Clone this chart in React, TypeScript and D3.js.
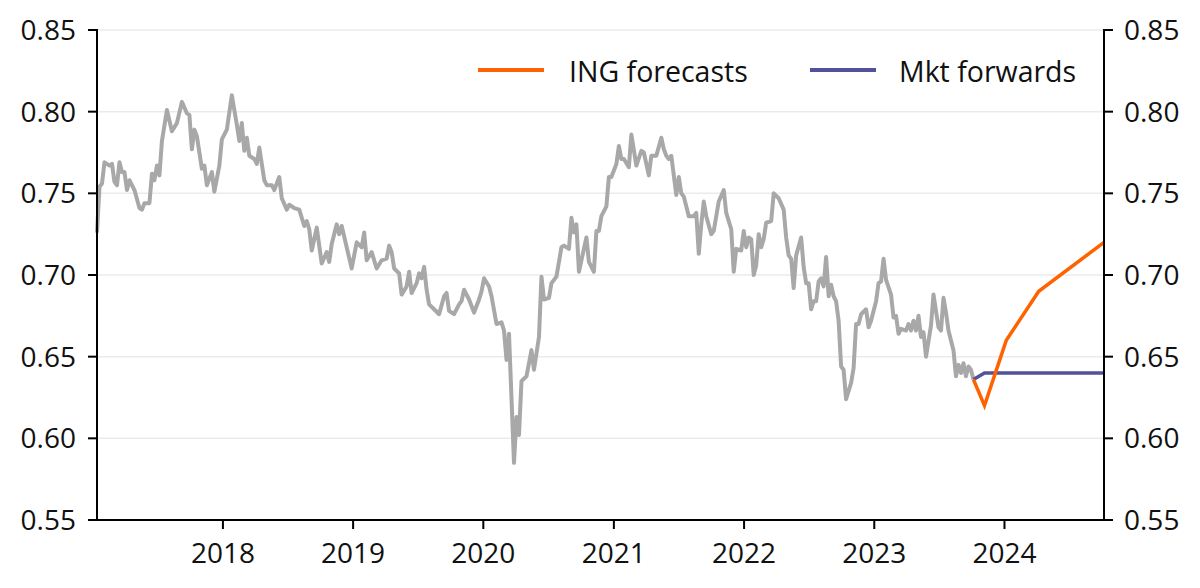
import * as d3 from "d3";

const width = 1200,
  height = 588;
const margin = { top: 30, right: 96, bottom: 68, left: 97 };

// weekly EUR/GBP spot, [weeks since 13 Jan 2017, value]
const eurgbpHistory: [number, number][] = [
  [0, 0.726], [1, 0.754], [2, 0.756], [3, 0.769], [5, 0.767], [6, 0.768], [7, 0.757],
  [8, 0.755], [9, 0.769], [10, 0.763], [11, 0.763], [12, 0.752], [13, 0.758], [15, 0.752],
  [17, 0.741], [18, 0.74], [19, 0.744], [21, 0.744], [22, 0.762], [23, 0.758], [24, 0.767],
  [25, 0.761], [26, 0.782], [28, 0.801], [30, 0.788], [32, 0.793], [34, 0.806], [36, 0.799],
  [37, 0.798], [38, 0.777], [39, 0.789], [40, 0.785], [42, 0.765], [43, 0.767], [44, 0.755],
  [46, 0.763], [47, 0.751], [49, 0.767], [50, 0.783], [52, 0.789], [54, 0.81], [56, 0.792],
  [57, 0.782], [58, 0.793], [59, 0.776], [60, 0.784], [61, 0.773], [63, 0.771], [64, 0.768],
  [65, 0.778], [67, 0.758], [68, 0.755], [70, 0.755], [71, 0.752], [73, 0.76], [74, 0.747],
  [76, 0.74], [77, 0.743], [79, 0.741], [81, 0.74], [83, 0.73], [84, 0.733], [85, 0.728],
  [86, 0.715], [88, 0.729], [90, 0.707], [92, 0.714], [93, 0.708], [94, 0.719], [96, 0.731],
  [97, 0.725], [98, 0.73], [100, 0.717], [102, 0.704], [104, 0.72], [106, 0.717], [107, 0.726],
  [108, 0.709], [110, 0.714], [112, 0.704], [114, 0.709], [116, 0.71], [117, 0.718], [118, 0.714],
  [119, 0.704], [121, 0.701], [122, 0.688], [124, 0.693], [125, 0.702], [126, 0.689], [128, 0.695],
  [129, 0.701], [130, 0.698], [131, 0.705], [132, 0.691], [133, 0.682], [135, 0.679], [137, 0.676],
  [139, 0.687], [140, 0.689], [141, 0.678], [143, 0.676], [145, 0.682], [146, 0.684], [147, 0.691],
  [149, 0.685], [151, 0.677], [153, 0.685], [154, 0.69], [155, 0.698], [157, 0.693], [158, 0.687],
  [160, 0.67], [162, 0.671], [163, 0.666], [164, 0.648], [165, 0.664], [167, 0.585], [168, 0.613],
  [169, 0.602], [170, 0.635], [172, 0.638], [174, 0.654], [175, 0.642], [177, 0.662], [178, 0.699],
  [179, 0.685], [181, 0.686], [182, 0.695], [184, 0.699], [186, 0.717], [187, 0.718], [189, 0.716],
  [190, 0.735], [191, 0.726], [192, 0.731], [193, 0.702], [196, 0.723], [197, 0.708], [199, 0.702],
  [200, 0.727], [201, 0.727], [202, 0.736], [204, 0.742], [205, 0.76], [206, 0.76], [208, 0.768],
  [209, 0.779], [210, 0.771], [211, 0.771], [213, 0.766], [214, 0.786], [216, 0.767], [218, 0.776],
  [219, 0.775], [221, 0.761], [222, 0.773], [224, 0.773], [226, 0.784], [227, 0.777], [228, 0.773],
  [229, 0.771], [230, 0.773], [232, 0.749], [233, 0.76], [234, 0.75], [235, 0.748], [237, 0.736],
  [239, 0.736], [240, 0.738], [241, 0.713], [242, 0.731], [243, 0.745], [244, 0.736], [246, 0.725],
  [247, 0.727], [249, 0.745], [251, 0.752], [252, 0.738], [254, 0.728], [255, 0.702], [256, 0.716],
  [258, 0.715], [259, 0.727], [260, 0.717], [261, 0.723], [262, 0.722], [263, 0.7], [264, 0.706],
  [265, 0.725], [266, 0.717], [267, 0.722], [268, 0.732], [270, 0.733], [271, 0.75], [273, 0.747],
  [275, 0.74], [276, 0.723], [277, 0.712], [278, 0.71], [279, 0.692], [280, 0.712], [282, 0.723],
  [283, 0.705], [284, 0.695], [285, 0.695], [286, 0.679], [287, 0.684], [288, 0.684], [289, 0.696],
  [290, 0.698], [291, 0.693], [292, 0.711], [293, 0.687], [294, 0.694], [295, 0.687], [296, 0.684],
  [297, 0.672], [298, 0.644], [299, 0.642], [300, 0.624], [302, 0.634], [303, 0.643], [304, 0.67],
  [305, 0.67], [306, 0.676], [308, 0.679], [309, 0.668], [310, 0.672], [312, 0.684], [313, 0.695],
  [314, 0.696], [315, 0.71], [316, 0.697], [318, 0.688], [319, 0.674], [320, 0.675], [321, 0.664],
  [322, 0.667], [324, 0.666], [325, 0.67], [326, 0.666], [327, 0.672], [328, 0.666], [329, 0.675],
  [330, 0.662], [331, 0.665], [332, 0.65], [334, 0.669], [335, 0.688], [337, 0.668], [338, 0.666],
  [339, 0.686], [340, 0.677], [341, 0.666], [343, 0.654], [344, 0.638], [345, 0.645], [346, 0.64],
  [347, 0.646], [348, 0.638], [349, 0.644], [350, 0.642], [351, 0.636],
];

const historyStart = "2017-01-13";
const forecastDates = ["2023-10-06", "2023-11-06", "2024-01-06", "2024-04-06", "2024-10-06"];
const ingForecasts = [0.636, 0.62, 0.66, 0.69, 0.72];
const mktForwards = [0.636, 0.64, 0.64, 0.64, 0.64];

const yTicks = [0.55, 0.6, 0.65, 0.7, 0.75, 0.8, 0.85];
const yearTicks = [2018, 2019, 2020, 2021, 2022, 2023, 2024];

const parse = d3.timeParse("%Y-%m-%d");
const font = "'Open Sans', Lato, sans-serif";

export default function App() {
  const start = parse(historyStart) as Date;
  const x = d3
    .scaleTime()
    .domain([start, parse(forecastDates[forecastDates.length - 1]) as Date])
    .range([margin.left, width - margin.right]);
  const y = d3
    .scaleLinear()
    .domain([0.55, 0.85])
    .range([height - margin.bottom, margin.top]);

  const line = d3
    .line<[Date, number]>()
    .x((d) => x(d[0]))
    .y((d) => y(d[1]));

  const history: [Date, number][] = eurgbpHistory.map(([w, v]) => [
    d3.timeDay.offset(start, w * 7),
    v,
  ]);
  const ing: [Date, number][] = forecastDates.map((d, i) => [parse(d) as Date, ingForecasts[i]]);
  const mkt: [Date, number][] = forecastDates.map((d, i) => [parse(d) as Date, mktForwards[i]]);

  const x0 = margin.left,
    x1 = width - margin.right,
    yb = height - margin.bottom;

  return (
    <svg
      width={width}
      height={height}
      style={{ position: "absolute", left: 0, top: 0, background: "#fff" }}
      fontFamily={font}
    >
      {/* gridlines */}
      {yTicks
        .filter((t) => t > 0.55)
        .map((t) => (
          <line key={"g" + t} x1={x0} x2={x1} y1={y(t)} y2={y(t)} stroke="#ebebeb" strokeWidth={1.5} />
        ))}

      {/* series */}
      <path d={line(history) || ""} fill="none" stroke="#a8a8a8" strokeWidth={4} strokeLinejoin="round" />
      <path d={line(mkt) || ""} fill="none" stroke="#525199" strokeWidth={3.5} />
      <path d={line(ing) || ""} fill="none" stroke="#ff6200" strokeWidth={3.5} />

      {/* axes */}
      <g stroke="#000" strokeWidth={2}>
        <line x1={x0} x2={x0} y1={margin.top - 1} y2={yb + 1} />
        <line x1={x1} x2={x1} y1={margin.top - 1} y2={yb + 1} />
        <line x1={x0} x2={x1} y1={yb} y2={yb} />
        {yTicks.map((t) => (
          <g key={"t" + t}>
            <line x1={x0 - 9} x2={x0} y1={y(t)} y2={y(t)} />
            <line x1={x1} x2={x1 + 9} y1={y(t)} y2={y(t)} />
          </g>
        ))}
        {yearTicks.map((yr) => (
          <line key={"x" + yr} x1={x(new Date(yr, 0, 1))} x2={x(new Date(yr, 0, 1))} y1={yb} y2={yb + 9} />
        ))}
      </g>

      <g fontSize={28} fill="#111">
        {yTicks.map((t) => (
          <g key={"l" + t}>
            <text x={x0 - 21} y={y(t) + 10} textAnchor="end">
              {t.toFixed(2)}
            </text>
            <text x={x1 + 20} y={y(t) + 10} textAnchor="start">
              {t.toFixed(2)}
            </text>
          </g>
        ))}
        {yearTicks.map((yr) => (
          <text key={"xl" + yr} x={x(new Date(yr, 0, 1))} y={563} textAnchor="middle">
            {yr}
          </text>
        ))}
      </g>

      {/* legend */}
      <g fontSize={28.5} fill="#111">
        <line x1={478} x2={544} y1={70} y2={70} stroke="#ff6200" strokeWidth={4} />
        <text x={569} y={82}>ING forecasts</text>
        <line x1={810} x2={876} y1={70} y2={70} stroke="#525199" strokeWidth={4} />
        <text x={899} y={82}>Mkt forwards</text>
      </g>
    </svg>
  );
}
